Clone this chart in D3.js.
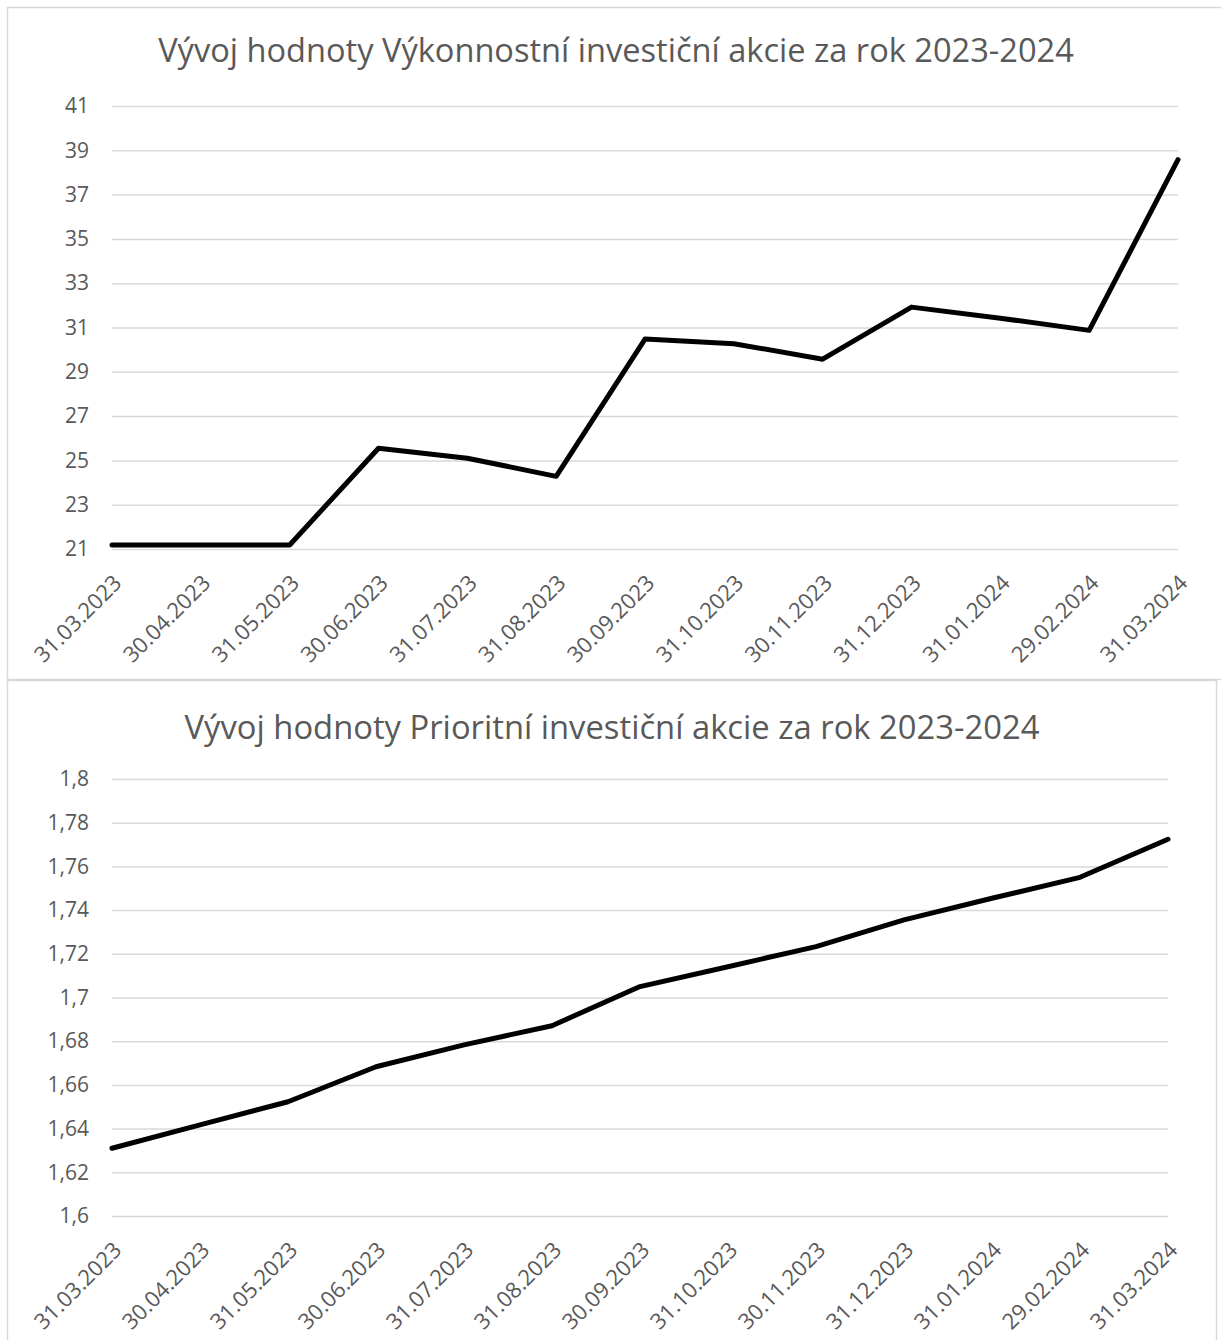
<!DOCTYPE html>
<html>
<head>
<meta charset="utf-8">
<script src="https://cdn.jsdelivr.net/npm/d3@7"></script>
<style>
  html, body { margin: 0; padding: 0; background: #ffffff; }
  svg { display: block; }
  text { font-family: "Open Sans", "Noto Sans", sans-serif; fill: #595959; }
</style>
</head>
<body>
<svg id="chart" width="1221" height="1340"></svg>
<script>
// ---- data ----
const categories = ["31.03.2023","30.04.2023","31.05.2023","30.06.2023","31.07.2023","31.08.2023","30.09.2023","31.10.2023","30.11.2023","31.12.2023","31.01.2024","29.02.2024","31.03.2024"];
const vykonnostniValues = [21.18, 21.18, 21.18, 25.55, 25.1, 24.28, 30.48, 30.27, 29.57, 31.92, 31.42, 30.87, 38.58];
const prioritniValues = [1.631, 1.6417, 1.6523, 1.6683, 1.6783, 1.6871, 1.705, 1.7141, 1.7233, 1.7355, 1.7454, 1.755, 1.7724];
const topTicks = [21, 23, 25, 27, 29, 31, 33, 35, 37, 39, 41];
const bottomTicks = [1.6, 1.62, 1.64, 1.66, 1.68, 1.7, 1.72, 1.74, 1.76, 1.78, 1.8];
const topTitle = "Vývoj hodnoty Výkonnostní investiční akcie za rok 2023-2024";
const bottomTitle = "Vývoj hodnoty Prioritní investiční akcie za rok 2023-2024";

const svg = d3.select("#chart");
const fmtComma = v => String(+v.toFixed(2)).replace(".", ",");

function drawChart(cfg) {
  const g = svg.append("g");
  // frame
  g.append("rect")
    .attr("x", cfg.frame[0] + 0.5).attr("y", cfg.frame[1] + 0.5)
    .attr("width", cfg.frame[2]).attr("height", cfg.frame[3])
    .attr("fill", "#fff").attr("stroke", "#d9d9d9").attr("stroke-width", 1.5);

  const x = d3.scalePoint().domain(cfg.categories).range([cfg.left, cfg.right]).padding(0);
  const y = d3.scaleLinear().domain(cfg.domain).range([cfg.bottom, cfg.top]);

  // gridlines via axis
  const yAxis = d3.axisLeft(y).tickValues(cfg.ticks).tickSize(-(cfg.right - cfg.left)).tickPadding(23).tickFormat(cfg.fmt);
  const ya = g.append("g").attr("transform", `translate(${cfg.left},0)`).call(yAxis);
  ya.select(".domain").remove();
  ya.selectAll(".tick line").attr("stroke", "#d9d9d9").attr("stroke-width", 1.5);
  ya.selectAll(".tick text").attr("fill", "#595959").style("font-size", "21px")
    .attr("font-family", null);

  // x labels
  const xAxis = d3.axisBottom(x).tickSize(0).tickFormat(d => d);
  const xa = g.append("g").attr("transform", `translate(0,${cfg.bottom})`).call(xAxis);
  xa.select(".domain").remove();
  xa.selectAll(".tick text")
    .attr("fill", "#595959").style("font-size", "22px")
    .attr("font-family", null)
    .attr("text-anchor", "end")
    .attr("y", 0).attr("dy", "0.35em")
    .attr("transform", "translate(5,30) rotate(-45)");

  // line
  const line = d3.line().x((d, i) => x(cfg.categories[i])).y(d => y(d));
  g.append("path").datum(cfg.values)
    .attr("fill", "none").attr("stroke", "#000").attr("stroke-width", 5)
    .attr("stroke-linejoin", "round").attr("stroke-linecap", "round")
    .attr("d", line);

  // title fitted to width
  const t = g.append("text").attr("x", cfg.titleX).attr("y", cfg.titleY)
    .attr("text-anchor", "middle").style("font-size", "30px").text(cfg.title);
  const len = t.node().getComputedTextLength();
  t.style("font-size", (30 * cfg.titleWidth / len) + "px");
}

drawChart({
  frame: [7, 7, 1230, 672],
  categories, values: vykonnostniValues, ticks: topTicks, domain: [21, 41],
  left: 112, right: 1178, top: 106, bottom: 549,
  fmt: d => String(d),
  title: topTitle, titleX: 616, titleY: 62, titleWidth: 916
});

drawChart({
  frame: [7, 680, 1209, 700],
  categories, values: prioritniValues, ticks: bottomTicks, domain: [1.6, 1.8],
  left: 112, right: 1168, top: 779, bottom: 1216,
  fmt: fmtComma,
  title: bottomTitle, titleX: 612, titleY: 739, titleWidth: 855
});
</script>
</body>
</html>
